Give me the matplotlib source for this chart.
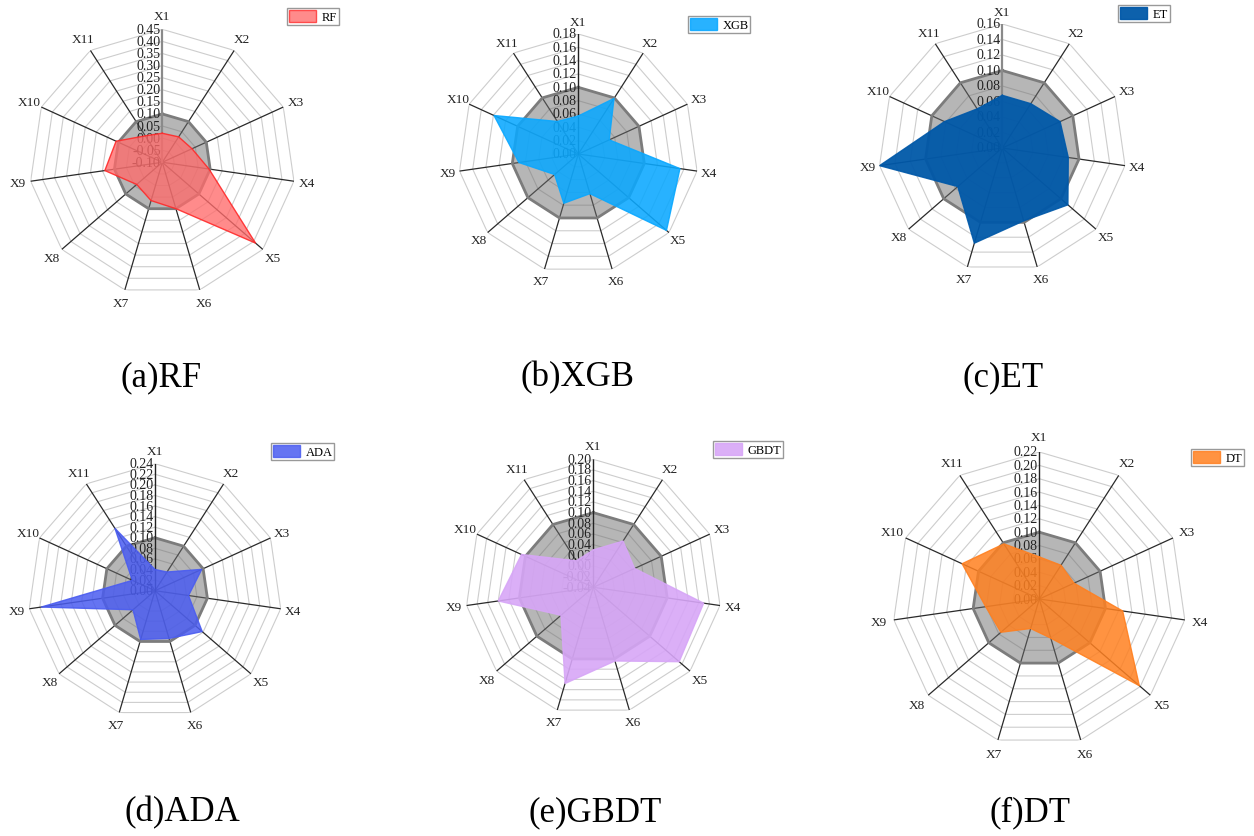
import numpy as np
import matplotlib
matplotlib.use("Agg")
import matplotlib.pyplot as plt
from matplotlib.patches import Patch

plt.rcParams['font.family'] = ['Liberation Serif', 'DejaVu Serif']

W, H = 1254, 837

features = ["X1", "X2", "X3", "X4", "X5", "X6", "X7", "X8", "X9", "X10", "X11"]
reference_level = 0.10

rf_values   = [0.020, 0.025, 0.035, 0.095, 0.410, 0.100, 0.065, 0.040, 0.140, 0.110, 0.030]
xgb_values  = [0.057, 0.099, 0.051, 0.154, 0.175, 0.062, 0.077, 0.047, 0.090, 0.139, 0.058]
et_values   = [0.068, 0.068, 0.082, 0.086, 0.112, 0.098, 0.128, 0.076, 0.160, 0.082, 0.060]
ada_values  = [0.040, 0.042, 0.097, 0.064, 0.118, 0.094, 0.096, 0.055, 0.217, 0.047, 0.140]
gbdt_values = [0.030, 0.063, 0.045, 0.169, 0.173, 0.104, 0.148, 0.040, 0.140, 0.108, 0.019]
dt_values   = [0.063, 0.060, 0.057, 0.126, 0.198, 0.061, 0.046, 0.076, 0.081, 0.127, 0.098]

rf_ticks   = [-0.10, -0.05, 0.00, 0.05, 0.10, 0.15, 0.20, 0.25, 0.30, 0.35, 0.40, 0.45]
xgb_ticks  = [0.00, 0.02, 0.04, 0.06, 0.08, 0.10, 0.12, 0.14, 0.16, 0.18]
et_ticks   = [0.00, 0.02, 0.04, 0.06, 0.08, 0.10, 0.12, 0.14, 0.16]
ada_ticks  = [0.00, 0.02, 0.04, 0.06, 0.08, 0.10, 0.12, 0.14, 0.16, 0.18, 0.20, 0.22, 0.24]
gbdt_ticks = [-0.04, -0.02, 0.00, 0.02, 0.04, 0.06, 0.08, 0.10, 0.12, 0.14, 0.16, 0.18, 0.20]
dt_ticks   = [0.00, 0.02, 0.04, 0.06, 0.08, 0.10, 0.12, 0.14, 0.16, 0.18, 0.20, 0.22]

model_names = ["RF", "XGB", "ET", "ADA", "GBDT", "DT"]
captions = ["(a)RF", "(b)XGB", "(c)ET", "(d)ADA", "(e)GBDT", "(f)DT"]

panels = [
    dict(vals=rf_values, ticks=rf_ticks, fill="#ff6b6b", edge="#ff2a2a", alpha=0.78,
         c=(162.3, 163.3), R=133, leg=(287, 9), cap=(161, 378), axis_col="#8a8a8a", axis_lw=1.6),
    dict(vals=xgb_values, ticks=xgb_ticks, fill="#0aa8ff", edge="#0aa8ff", alpha=0.88,
         c=(578.3, 155.0), R=120, leg=(688, 17), cap=(578, 378), axis_col="#222222", axis_lw=1.0),
    dict(vals=et_values, ticks=et_ticks, fill="#0058a8", edge="#0058a8", alpha=0.95,
         c=(1002.3, 149.0), R=124, leg=(1118, 6), cap=(1003, 378), axis_col="#8a8a8a", axis_lw=1.6),
    dict(vals=ada_values, ticks=ada_ticks, fill="#4a5cf0", edge="#4a5cf0", alpha=0.85,
         c=(155.0, 591.7), R=127, leg=(271, 444), cap=(182, 813), axis_col="#222222", axis_lw=1.0),
    dict(vals=gbdt_values, ticks=gbdt_ticks, fill="#d7a6f7", edge="#d7a6f7", alpha=0.9,
         c=(593.3, 588.3), R=128, leg=(713, 442), cap=(595, 813), axis_col="#222222", axis_lw=1.0),
    dict(vals=dt_values, ticks=dt_ticks, fill="#ff8020", edge="#ff8020", alpha=0.85,
         c=(1039.3, 600.0), R=147, leg=(1191, 450), cap=(1030, 813), axis_col="#222222", axis_lw=1.0),
]

fig = plt.figure(figsize=(W / 100, H / 100), dpi=100)
fig.patch.set_facecolor("white")

n = len(features)
angles = np.linspace(0, 2 * np.pi, n, endpoint=False)
ang_closed = np.concatenate([angles, angles[:1]])

for name, cap, p in zip(model_names, captions, panels):
    cx, cy = p["c"]
    R = p["R"]
    ax = fig.add_axes([(cx - R) / W, (H - cy - R) / H, 2 * R / W, 2 * R / H], projection="polar")
    ax.set_theta_zero_location("N")
    ax.set_theta_direction(-1)
    ticks = p["ticks"]
    rmin, rmax = ticks[0], ticks[-1]
    ax.set_ylim(rmin, rmax)
    ax.grid(False)
    ax.set_xticks([])
    ax.set_yticks([])
    ax.spines["polar"].set_visible(False)
    ax.patch.set_alpha(0)

    # polygon rings
    for t in ticks[1:]:
        ax.plot(ang_closed, [t] * (n + 1), color="#cdcdcd", lw=0.8, zorder=1)
    # spokes
    for k, a in enumerate(angles):
        if k == 0:
            continue
        ax.plot([a, a], [rmin, rmax], color="#2a2a2a", lw=0.9, zorder=1.2)

    # reference polygon at 0.10
    ax.fill(ang_closed, [reference_level] * (n + 1), facecolor="#6e6e6e", alpha=0.5, zorder=2, lw=0)
    ax.plot(ang_closed, [reference_level] * (n + 1), color="#7c7c7c", lw=2.0, zorder=2.1)

    # main radial axis (X1)
    ax.plot([0, 0], [rmin, rmax], color=p["axis_col"], lw=p["axis_lw"], zorder=2.2)

    # tick labels along X1
    for t in ticks:
        ax.annotate(f"{t:.2f}", xy=(0, t), xytext=(-1.2, 0), textcoords="offset points",
                    ha="right", va="center", fontsize=10, color="#222222", zorder=2.5)

    # data
    vals = list(p["vals"]) + [p["vals"][0]]
    ax.fill(ang_closed, vals, facecolor=p["fill"], alpha=p["alpha"], zorder=3, lw=0)
    ax.plot(ang_closed, vals, color=p["edge"], lw=1.0, alpha=0.9, zorder=3.1)

    # feature labels
    rlab = rmin + 1.10 * (rmax - rmin)
    for f, a in zip(features, angles):
        ax.text(a, rlab, f, ha="center", va="center", fontsize=9.5, color="#222222")

    # legend
    lx, ly = p["leg"]
    ax.legend(handles=[Patch(facecolor=p["fill"], edgecolor=p["edge"], alpha=p["alpha"], label=name)],
              loc="upper left", bbox_to_anchor=(lx / W, 1 - ly / H), bbox_transform=fig.transFigure,
              fancybox=False, edgecolor="#999999", framealpha=1, fontsize=9,
              borderpad=0.15, handlelength=2.2, handleheight=1.1, handletextpad=0.4,
              borderaxespad=0)

    # caption
    fig.text(p["cap"][0] / W, 1 - p["cap"][1] / H, cap, ha="center", va="center", fontsize=25,
             color="black")

fig.savefig("out.png", dpi=100, facecolor="white")
